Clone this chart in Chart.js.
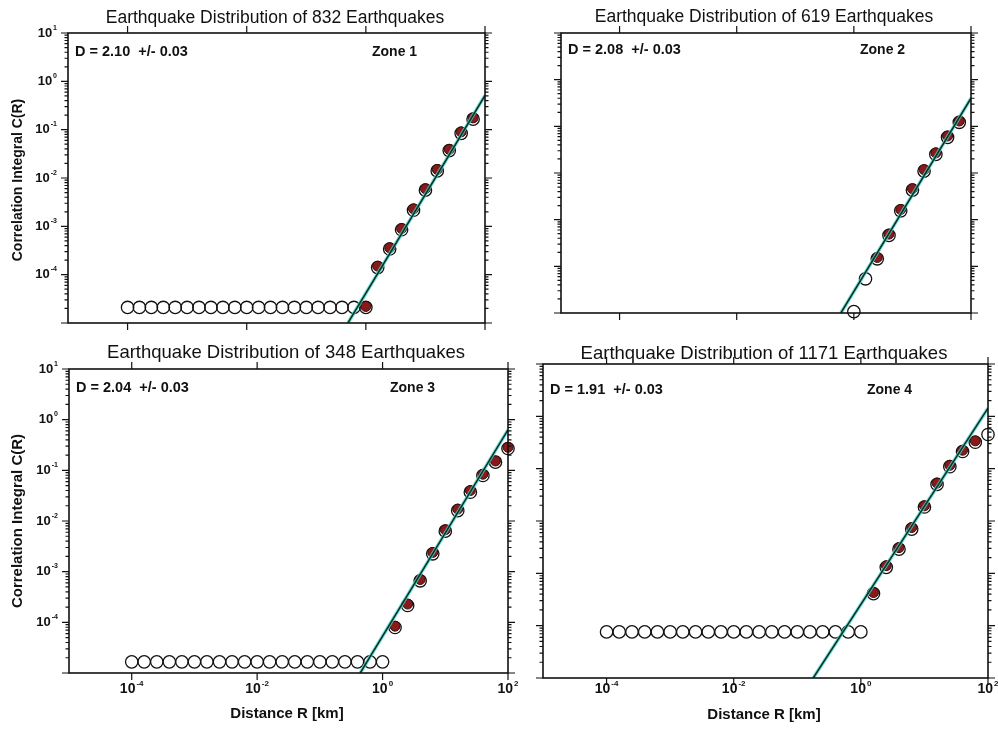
<!DOCTYPE html>
<html>
<head>
<meta charset="utf-8">
<script src="https://cdn.jsdelivr.net/npm/chart.js@4.4.0/dist/chart.umd.min.js"></script>
<style>
  body { margin: 0; background: #fff; width: 998px; height: 730px; position: relative; overflow: hidden; }
  canvas { position: absolute; }
</style>
</head>
<body>
<canvas id="zone1" width="500" height="340" style="left:0;top:0"></canvas>
<canvas id="zone2" width="498" height="340" style="left:500px;top:0"></canvas>
<canvas id="zone3" width="520" height="390" style="left:0;top:340px"></canvas>
<canvas id="zone4" width="478" height="390" style="left:520px;top:340px"></canvas>
<script>
// distance R [km], shared by all four zones
const radiusKm = [
  1e-4, 1.58e-4, 2.51e-4, 3.98e-4, 6.31e-4,
  1e-3, 1.58e-3, 2.51e-3, 3.98e-3, 6.31e-3,
  0.01, 0.0158, 0.0251, 0.0398, 0.0631,
  0.1, 0.158, 0.251, 0.398, 0.631,
  1, 1.58, 2.51, 3.98, 6.31,
  10, 15.8, 25.1, 39.8, 63.1, 100
];

// correlation integral C(R), open circles (null = no point)
const zone1Open = [
  2.1e-5, 2.1e-5, 2.1e-5, 2.1e-5, 2.1e-5, 2.1e-5, 2.1e-5, 2.1e-5, 2.1e-5, 2.1e-5,
  2.1e-5, 2.1e-5, 2.1e-5, 2.1e-5, 2.1e-5, 2.1e-5, 2.1e-5, 2.1e-5, 2.1e-5, 2.1e-5,
  2.1e-5, 1.4e-4, 3.4e-4, 8.5e-4, 2.15e-3, 5.6e-3, 0.014, 0.037, 0.084, 0.165, null
];
const zone2Open = [
  null, null, null, null, null, null, null, null, null, null,
  null, null, null, null, null, null, null, null, null, null,
  1.07e-5, 5.4e-5, 1.45e-4, 4.6e-4, 1.55e-3, 4.3e-3, 0.011, 0.025, 0.058, 0.122, null
];
const zone3Open = [
  1.66e-5, 1.66e-5, 1.66e-5, 1.66e-5, 1.66e-5, 1.66e-5, 1.66e-5, 1.66e-5, 1.66e-5, 1.66e-5,
  1.66e-5, 1.66e-5, 1.66e-5, 1.66e-5, 1.66e-5, 1.66e-5, 1.66e-5, 1.66e-5, 1.66e-5, 1.66e-5,
  1.66e-5, 7.9e-5, 2.15e-4, 6.6e-4, 2.25e-3, 6.3e-3, 0.016, 0.037, 0.079, 0.145, 0.27
];
const zone4Open = [
  7.6e-5, 7.6e-5, 7.6e-5, 7.6e-5, 7.6e-5, 7.6e-5, 7.6e-5, 7.6e-5, 7.6e-5, 7.6e-5,
  7.6e-5, 7.6e-5, 7.6e-5, 7.6e-5, 7.6e-5, 7.6e-5, 7.6e-5, 7.6e-5, 7.6e-5, 7.6e-5,
  7.6e-5, 4.1e-4, 1.3e-3, 2.9e-3, 7.0e-3, 0.0185, 0.05, 0.109, 0.213, 0.32, 0.45
];

// points used in the fit (red dots)
const zone1Fit = [
  null, null, null, null, null, null, null, null, null, null,
  null, null, null, null, null, null, null, null, null, null,
  2.2e-5, 1.5e-4, 3.6e-4, 9.0e-4, 2.3e-3, 6.0e-3, 0.015, 0.039, 0.09, 0.175, null
];
const zone2Fit = [
  null, null, null, null, null, null, null, null, null, null,
  null, null, null, null, null, null, null, null, null, null,
  null, null, 1.55e-4, 4.9e-4, 1.65e-3, 4.6e-3, 0.0118, 0.027, 0.062, 0.13, null
];
const zone3Fit = [
  null, null, null, null, null, null, null, null, null, null,
  null, null, null, null, null, null, null, null, null, null,
  null, 8.4e-5, 2.3e-4, 7.0e-4, 2.4e-3, 6.7e-3, 0.0172, 0.04, 0.084, 0.153, 0.285
];
const zone4Fit = [
  null, null, null, null, null, null, null, null, null, null,
  null, null, null, null, null, null, null, null, null, null,
  null, 4.3e-4, 1.4e-3, 3.1e-3, 7.5e-3, 0.0195, 0.053, 0.116, 0.225, 0.34, null
];

// fitted power law lines, end points [R, C(R)]
const zone1Line = [[0.5, 1e-5], [100, 0.51]];
const zone2Line = [[0.6, 1e-5], [100, 0.40]];
const zone3Line = [[0.44, 1e-5], [100, 0.63]];
const zone4Line = [[0.178, 1e-5], [100, 1.43]];

const titles = [
  "Earthquake Distribution of 832 Earthquakes",
  "Earthquake Distribution of 619 Earthquakes",
  "Earthquake Distribution of 348 Earthquakes",
  "Earthquake Distribution of 1171 Earthquakes"
];
const dimensions = ["D = 2.10  +/- 0.03", "D = 2.08  +/- 0.03", "D = 2.04  +/- 0.03", "D = 1.91  +/- 0.03"];
const zones = ["Zone 1", "Zone 2", "Zone 3", "Zone 4"];
const yTickExp = [1, 0, -1, -2, -3, -4];
const xTickExp = [-4, -2, 0, 2];

const FONT = "'Liberation Sans', Arial, sans-serif";

function toPoints(values) {
  const pts = [];
  values.forEach((v, i) => { if (v !== null) pts.push({ x: radiusKm[i], y: v }); });
  return pts;
}

function powerLabel(ctx, exp, x, y, align, size) {
  ctx.font = `bold ${size}px ${FONT}`;
  const base = "10";
  const bw = ctx.measureText(base).width;
  ctx.font = `bold ${Math.round(size * 0.55)}px ${FONT}`;
  const sup = String(exp);
  const sw = ctx.measureText(sup).width;
  let left = align === "right" ? x - bw - sw - 1 : x - (bw + sw + 1) / 2;
  ctx.textAlign = "left";
  ctx.textBaseline = "middle";
  ctx.font = `bold ${size}px ${FONT}`;
  ctx.fillText(base, left, y);
  ctx.font = `bold ${Math.round(size * 0.55)}px ${FONT}`;
  ctx.fillText(sup, left + bw + 1, y - size * 0.4);
}

// frame, ticks and all texts
const decorations = {
  id: "decorations",
  afterDraw(chart, args, o) {
    const { ctx, chartArea: a, scales: { x, y } } = chart;
    ctx.save();
    ctx.strokeStyle = "#111";
    ctx.fillStyle = "#111";
    ctx.lineWidth = 1.6;
    ctx.strokeRect(a.left, a.top, a.right - a.left, a.bottom - a.top);

    ctx.lineWidth = 1.2;
    ctx.beginPath();
    for (let e = -5; e <= 1; e++) {
      for (let m = 1; m < 10; m++) {
        const v = m * Math.pow(10, e);
        if (v > 10.001) break;
        const py = y.getPixelForValue(v);
        const len = m === 1 ? 7 : 3.5;
        ctx.moveTo(a.left, py); ctx.lineTo(a.left - len, py);
        ctx.moveTo(a.right, py); ctx.lineTo(a.right + len, py);
      }
    }
    xTickExp.forEach(e => {
      const px = x.getPixelForValue(Math.pow(10, e));
      ctx.moveTo(px, a.top); ctx.lineTo(px, a.top - 7);
      ctx.moveTo(px, a.bottom); ctx.lineTo(px, a.bottom + 7);
    });
    ctx.stroke();

    if (o.yLabels) {
      yTickExp.forEach(e => powerLabel(ctx, e, a.left - 11, y.getPixelForValue(Math.pow(10, e)), "right", 13));
    }
    if (o.xLabels) {
      xTickExp.forEach(e => powerLabel(ctx, e, x.getPixelForValue(Math.pow(10, e)), o.xLabelY, "center", 14));
    }

    ctx.textBaseline = "middle";
    ctx.textAlign = "center";
    ctx.font = `${o.titleSize}px ${FONT}`;
    ctx.fillText(o.title, o.titleX, o.titleY);

    ctx.textAlign = "left";
    ctx.font = `bold 14.5px ${FONT}`;
    ctx.fillText(o.dim, o.dimX, o.textY);
    ctx.font = `bold 14px ${FONT}`;
    ctx.fillText(o.zone, o.zoneX, o.textY);

    if (o.yTitle) {
      ctx.save();
      ctx.translate(o.yTitleX, o.yTitleY);
      ctx.rotate(-Math.PI / 2);
      ctx.textAlign = "center";
      ctx.font = `bold ${o.yTitleSize}px ${FONT}`;
      ctx.fillText("Correlation Integral C(R)", 0, 0);
      ctx.restore();
    }
    if (o.xTitle) {
      ctx.textAlign = "center";
      ctx.font = `bold 15px ${FONT}`;
      ctx.fillText("Distance R [km]", o.xTitleX, o.xTitleY);
    }
    ctx.restore();
  }
};

function makePanel(id, open, fit, line, pad, opts) {
  const fitLine = line.map(p => ({ x: p[0], y: p[1] }));
  new Chart(document.getElementById(id), {
    type: "scatter",
    data: {
      datasets: [
        {
          type: "line", data: fitLine, borderColor: "#0c2e22", borderWidth: 1.5,
          pointRadius: 0, order: 0
        },
        {
          type: "line", data: fitLine, borderColor: "rgba(70,215,205,0.8)", borderWidth: 3.5,
          pointRadius: 0, order: 1
        },
        {
          data: toPoints(fit), pointRadius: 5, pointBackgroundColor: "#8a1a1a",
          pointBorderColor: "#2e0c0c", pointBorderWidth: 1, clip: false, order: 2
        },
        {
          data: toPoints(open), pointRadius: 6.2, pointBackgroundColor: "rgba(255,255,255,0)",
          pointBorderColor: "#111", pointBorderWidth: 1.3, clip: false, order: 3
        }
      ]
    },
    options: {
      responsive: false,
      animation: false,
      devicePixelRatio: 1,
      layout: { padding: pad },
      plugins: { legend: { display: false }, tooltip: { enabled: false }, decorations: opts },
      scales: {
        x: { type: "logarithmic", min: 1e-5, max: 100, display: false },
        y: { type: "logarithmic", min: 1e-5, max: 10, display: false }
      }
    },
    plugins: [decorations]
  });
}

makePanel("zone1", zone1Open, zone1Fit, zone1Line,
  { left: 68, top: 33, right: 15, bottom: 17 },
  { title: titles[0], titleSize: 17.5, titleX: 275, titleY: 18, dim: dimensions[0], dimX: 75,
    zone: zones[0], zoneX: 372, textY: 52, yLabels: true, xLabels: false,
    yTitle: true, yTitleX: 18, yTitleY: 180, yTitleSize: 14 });

makePanel("zone2", zone2Open, zone2Fit, zone2Line,
  { left: 61, top: 33, right: 27, bottom: 27 },
  { title: titles[1], titleSize: 17.5, titleX: 264, titleY: 17, dim: dimensions[1], dimX: 68,
    zone: zones[1], zoneX: 360, textY: 50, yLabels: false, xLabels: false });

makePanel("zone3", zone3Open, zone3Fit, zone3Line,
  { left: 69, top: 29, right: 12, bottom: 57 },
  { title: titles[2], titleSize: 18.5, titleX: 286, titleY: 13, dim: dimensions[2], dimX: 76,
    zone: zones[2], zoneX: 390, textY: 48, yLabels: true, xLabels: true, xLabelY: 349,
    yTitle: true, yTitleX: 18, yTitleY: 181, yTitleSize: 15,
    xTitle: true, xTitleX: 287, xTitleY: 374 });

makePanel("zone4", zone4Open, zone4Fit, zone4Line,
  { left: 23, top: 24, right: 10, bottom: 52 },
  { title: titles[3], titleSize: 18.5, titleX: 244, titleY: 14, dim: dimensions[3], dimX: 30,
    zone: zones[3], zoneX: 347, textY: 50, yLabels: false, xLabels: true, xLabelY: 349,
    xTitle: true, xTitleX: 244, xTitleY: 375 });
</script>
</body>
</html>
